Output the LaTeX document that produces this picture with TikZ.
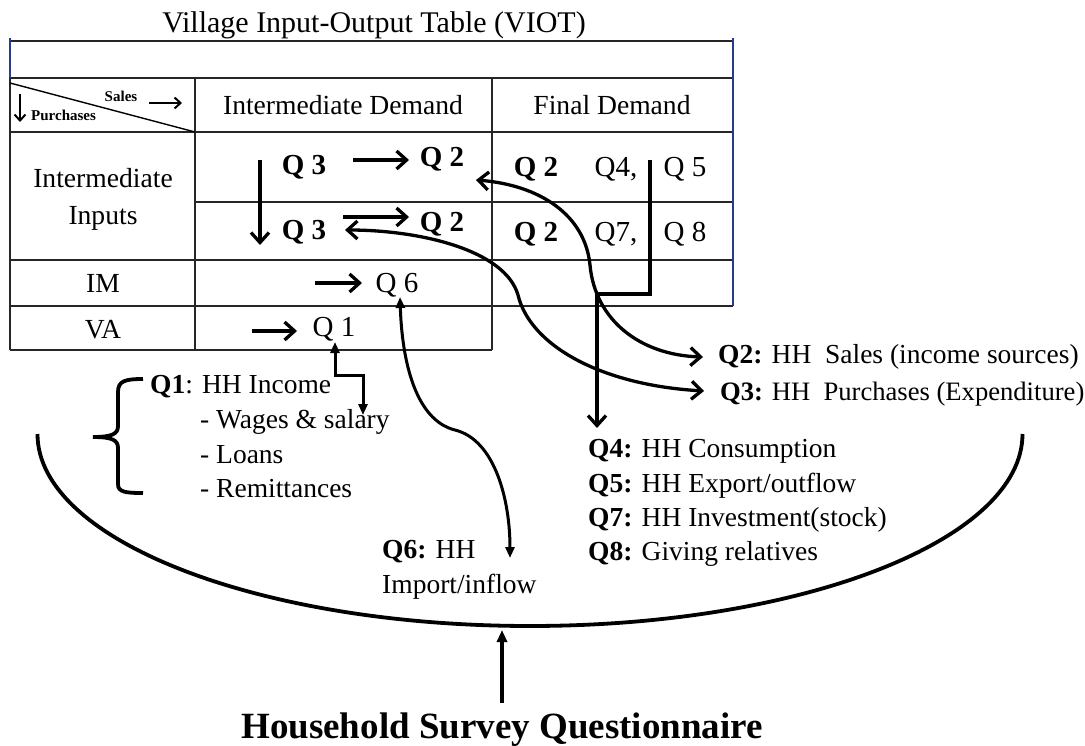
\documentclass[tikz,border=0pt]{standalone}
\usepackage{fontspec}
\setmainfont{Liberation Serif}
\usetikzlibrary{arrows.meta}
\begin{document}
\begin{tikzpicture}[x=1pt,y=-1pt,
  grid/.style={line width=1.6pt, draw=black!85},
  bline/.style={line width=1.2pt, draw={rgb,255:red,40;green,60;blue,140}},
  chev/.style={line width=3.3pt, -{Straight Barb[length=10pt,width=18pt]}},
  chevboth/.style={line width=3.3pt, {Straight Barb[length=10pt,width=18pt]}-{Straight Barb[length=10pt,width=18pt]}},
  smallchev/.style={line width=2pt, -{Straight Barb[length=6pt,width=11pt]}},
  filboth/.style={line width=3pt, {Triangle[length=11pt,width=9pt]}-{Triangle[length=11pt,width=9pt]}},
  fil/.style={line width=3.4pt, -{Triangle[length=12pt,width=10pt]}},
  thick3/.style={line width=3.8pt},
  tl/.style={font=\fontsize{27.6}{30}\selectfont, inner sep=0pt, anchor=base},
  ql/.style={font=\fontsize{29}{30}\selectfont, inner sep=0pt, anchor=base},
  qb/.style={font=\fontsize{29}{30}\selectfont\bfseries, inner sep=0pt, anchor=base},
  lab/.style={font=\fontsize{27.5}{30}\selectfont, inner sep=0pt, anchor=base west},
  hdr/.style={font=\fontsize{15}{16}\selectfont\bfseries, inner sep=0pt}
]
\fill[white] (0,0) rectangle (1085,746);
\useasboundingbox (0,0) rectangle (1085,746);

% title
\node[font=\fontsize{30}{32}\selectfont, inner sep=0pt, anchor=base] (title) at (374,33) {Village Input-Output Table (VIOT)};

% table grid
\draw[grid] (10,41) -- (733,41);
\draw[grid] (10,78) -- (733,78);
\draw[grid] (10,132) -- (733,132);
\draw[grid] (195,202) -- (733,202);
\draw[grid] (10,260) -- (733,260);
\draw[grid] (10,306) -- (733,306);
\draw[grid] (10,350) -- (492,350);
\draw[grid] (10,78) -- (10,350);
\draw[grid] (195,78) -- (195,350);
\draw[grid] (492,78) -- (492,350);
\draw[bline] (10,38) -- (10,78);
\draw[bline] (733,38) -- (733,306);
\draw[line width=1.4pt] (10,83) -- (195,132);

% header corner
\node[hdr, anchor=base] (sales) at (121,102) {Sales};
\node[hdr, anchor=base west] (purch) at (31,121) {Purchases};
\coordinate (sa1) at (149,103);
\coordinate (sa2) at (182,103);
\draw[smallchev] (sa1) -- (sa2);
\coordinate (pa1) at (20,94);
\coordinate (pa2) at (20,122);
\draw[smallchev] (pa1) -- (pa2);

% header texts
\node[tl] (idem) at (343,115) {Intermediate Demand};
\node[tl] (fdem) at (612,115) {Final Demand};
\node[tl] (iin1) at (103,188) {Intermediate};
\node[tl] (iin2) at (103,225) {Inputs};
\node[tl] (im) at (103,293) {IM};
\node[tl] (va) at (103,338) {VA};

% cells
\node[qb] (q3a) at (304,175) {Q 3};
\node[qb] (q2a) at (442,167) {Q 2};
\node[qb] (q3b) at (304,240) {Q 3};
\node[qb] (q2b) at (442,232) {Q 2};
\node[ql] (q6) at (397,293) {Q 6};
\node[ql] (q1) at (334,337) {Q 1};
\node[qb] (fq2a) at (536,177) {Q 2};
\node[ql] (q4c) at (616,177) {Q4,};
\node[ql] (q5c) at (685,177) {Q 5};
\node[qb] (fq2b) at (536,242) {Q 2};
\node[ql] (q7c) at (616,242) {Q7,};
\node[ql] (q8c) at (685,242) {Q 8};

% arrows inside the table
\coordinate (a1s) at (353,160);
\coordinate (a1e) at (409,160);
\draw[chev] (a1s) -- (a1e);
\coordinate (dn1) at (260,160);
\coordinate (dn2) at (260,245);
\draw[chev] (dn1) -- (dn2);
\coordinate (a2s) at (343,217);
\coordinate (a2e) at (409,217);
\draw[chev] (a2s) -- (a2e);
\coordinate (a3s) at (315,283);
\coordinate (a3e) at (362,283);
\draw[chev] (a3s) -- (a3e);
\coordinate (a4s) at (252,331);
\coordinate (a4e) at (297,331);
\draw[chev] (a4s) -- (a4e);

% lower labels
\node[lab] (t1) at (150,393) {\textbf{Q1}: HH Income};
\node[lab] (t1a) at (200,428) {- Wages \& salary};
\node[lab] (t1b) at (200,463) {- Loans};
\node[lab] (t1c) at (200,497) {- Remittances};
\node[lab] (t2) at (718,363) {\textbf{Q2:} HH\ \ Sales (income sources)};
\node[lab, font=\fontsize{26.6}{30}\selectfont] (t3) at (720,400) {\textbf{Q3:} HH\ \ Purchases (Expenditure)};
\node[lab] (t4) at (588,457) {\textbf{Q4:} HH Consumption};
\node[lab] (t5) at (588,492) {\textbf{Q5:} HH Export/outflow};
\node[lab] (t7) at (588,526) {\textbf{Q7:} HH Investment(stock)};
\node[lab] (t8) at (588,560) {\textbf{Q8:} Giving relatives};
\node[lab] (t6) at (382,558) {\textbf{Q6:} HH};
\node[lab] (t6b) at (382,593) {Import/inflow};
\node[font=\fontsize{37}{40}\selectfont\bfseries, inner sep=0pt, anchor=base] (hsq) at (502,738) {Household Survey Questionnaire};

% curved connectors
\coordinate (c2a) at (476,180);
\coordinate (c2b) at (703,357);
\draw[chevboth] (c2a) .. controls (540,185) and (585,215) .. (590,265) .. controls (595,320) and (640,355) .. (c2b);
\coordinate (c3a) at (345,230);
\coordinate (c3b) at (704,391);
\draw[chevboth] (c3a) .. controls (420,230) and (505,250) .. (518,295) .. controls (530,345) and (600,385) .. (c3b);
\coordinate (c4a) at (650,160);
\coordinate (c4b) at (597,428);
\draw[chev] (c4a) -- (650,294) -- (597,294) -- (c4b);
\coordinate (c6a) at (400,297);
\coordinate (c6b) at (510,558);
\draw[filboth] (c6a) .. controls (402,360) and (415,420) .. (455,430) .. controls (495,440) and (510,500) .. (c6b);
\coordinate (c1a) at (335,342);
\coordinate (c1b) at (363,415);
\draw[filboth] (c1a) -- (335,375) -- (363,375) -- (c1b);

% brace
\draw[thick3] (143,379) .. controls (125,379) and (118,381) .. (118,392) -- (118,426)
  .. controls (118,434) and (112,437) .. (93,437)
  .. controls (112,437) and (118,440) .. (118,448) -- (118,484)
  .. controls (118,492) and (125,493) .. (143,493);

% big arc
\coordinate (arcL) at (37.5,434);
\coordinate (arcR) at (1022.5,434);
\draw[thick3] (arcL) .. controls (37.5,540) and (258,626) .. (530,626)
  .. controls (802,626) and (1022.5,540) .. (arcR);

% bottom arrow
\coordinate (ub1) at (502,703);
\coordinate (ub2) at (502,630);
\draw[fil] (ub1) -- (ub2);
\end{tikzpicture}
\end{document}
